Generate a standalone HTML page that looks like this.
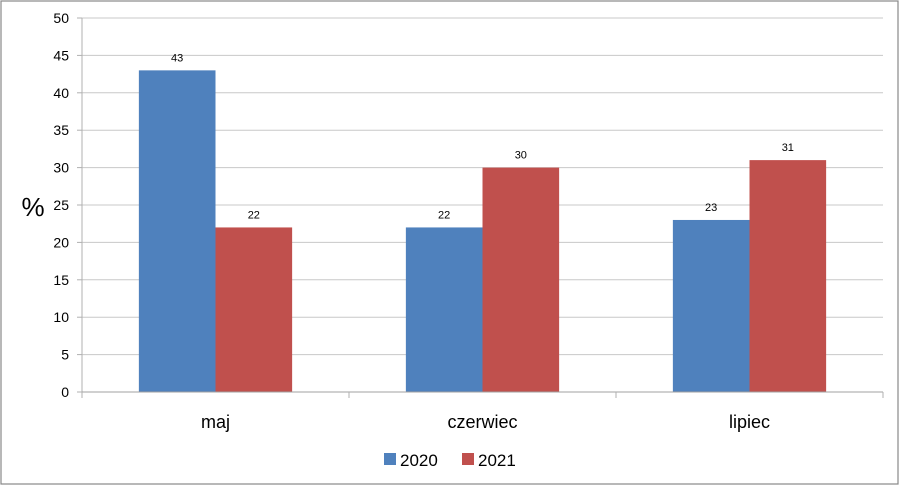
<!DOCTYPE html>
<html><head><meta charset="utf-8"><style>
html,body{margin:0;padding:0;background:#fff}
svg{display:block;font-family:"Liberation Sans","DejaVu Sans",sans-serif}
</style></head><body>
<svg id="chart" width="900" height="486" viewBox="0 0 900 486">
<rect x="1" y="1" width="897" height="483" fill="#fff" stroke="#888" stroke-width="1.2"/>
<g id="grid"></g>
<g id="bars"></g>
<g id="axes"></g>
<text x="33" y="216" font-size="26" text-anchor="middle" fill="#000">%</text>
<g>
<rect x="384" y="453" width="12" height="12" fill="#4f81bd"/>
<text x="400" y="466" font-size="17" fill="#000">2020</text>
<rect x="462" y="453" width="12" height="12" fill="#c0504d"/>
<text x="478" y="466" font-size="17" fill="#000">2021</text>
</g>
</svg>
<script>
const categories = ["maj", "czerwiec", "lipiec"];
const series2020 = [43, 22, 23];
const series2021 = [22, 30, 31];
const yTicks = [0, 5, 10, 15, 20, 25, 30, 35, 40, 45, 50];
const NS = "http://www.w3.org/2000/svg";
const x0 = 82, x1 = 883, yBase = 392, yTop = 18, yMax = 50;
const y = v => yBase - (v / yMax) * (yBase - yTop);
const catW = (x1 - x0) / categories.length;
const barW = catW * 0.287;
function mk(tag, attrs, parent) {
  const e = document.createElementNS(NS, tag);
  for (const k in attrs) e.setAttribute(k, attrs[k]);
  parent.appendChild(e);
  return e;
}
const grid = document.getElementById("grid"), bars = document.getElementById("bars"), axes = document.getElementById("axes");
yTicks.forEach(t => {
  const yy = y(t);
  if (t > 0) {
    const gl = mk("line", {x1: x0, x2: x1, y1: yy, y2: yy, stroke: "#c8c8c8", "stroke-width": 1}, grid);
    
    
  }
  const tk = mk("line", {x1: x0 - 5, x2: x0, y1: yy, y2: yy, stroke: "#b0b0b0"}, axes);
  
  
  const tl = mk("text", {x: x0 - 13, y: yy + 5, "font-size": 14, "text-anchor": "end", fill: "#000"}, axes);
  tl.textContent = t;
  
  
});
const ax = mk("line", {x1: x0, x2: x0, y1: yTop, y2: yBase, stroke: "#b0b0b0"}, axes);


const xa = mk("line", {x1: x0, x2: x1, y1: yBase, y2: yBase, stroke: "#a0a0a0"}, axes);


for (let i = 0; i <= categories.length; i++) {
  const xx = x0 + i * catW;
  const t = mk("line", {x1: xx, x2: xx, y1: yBase, y2: yBase + 6, stroke: "#b0b0b0"}, axes);
  
  
}
const allSeries = [[series2020, "#4f81bd", "2020"], [series2021, "#c0504d", "2021"]];
categories.forEach((c, i) => {
  const cx = x0 + i * catW + catW / 2;
  const cl = mk("text", {x: cx, y: 428, "font-size": 18, "text-anchor": "middle", fill: "#000"}, axes);
  cl.textContent = c;
  
  
  allSeries.forEach((s, j) => {
    const v = s[0][i];
    const bx = cx - barW + j * barW;
    const r = mk("rect", {x: bx, y: y(v), width: barW, height: yBase - y(v), fill: s[1]}, bars);
    
    
    const lb = mk("text", {x: bx + barW / 2, y: y(v) - 9, "font-size": 11, "text-anchor": "middle", fill: "#000"}, bars);
    lb.textContent = v;
    
    
  });
});
</script>
</body></html>
